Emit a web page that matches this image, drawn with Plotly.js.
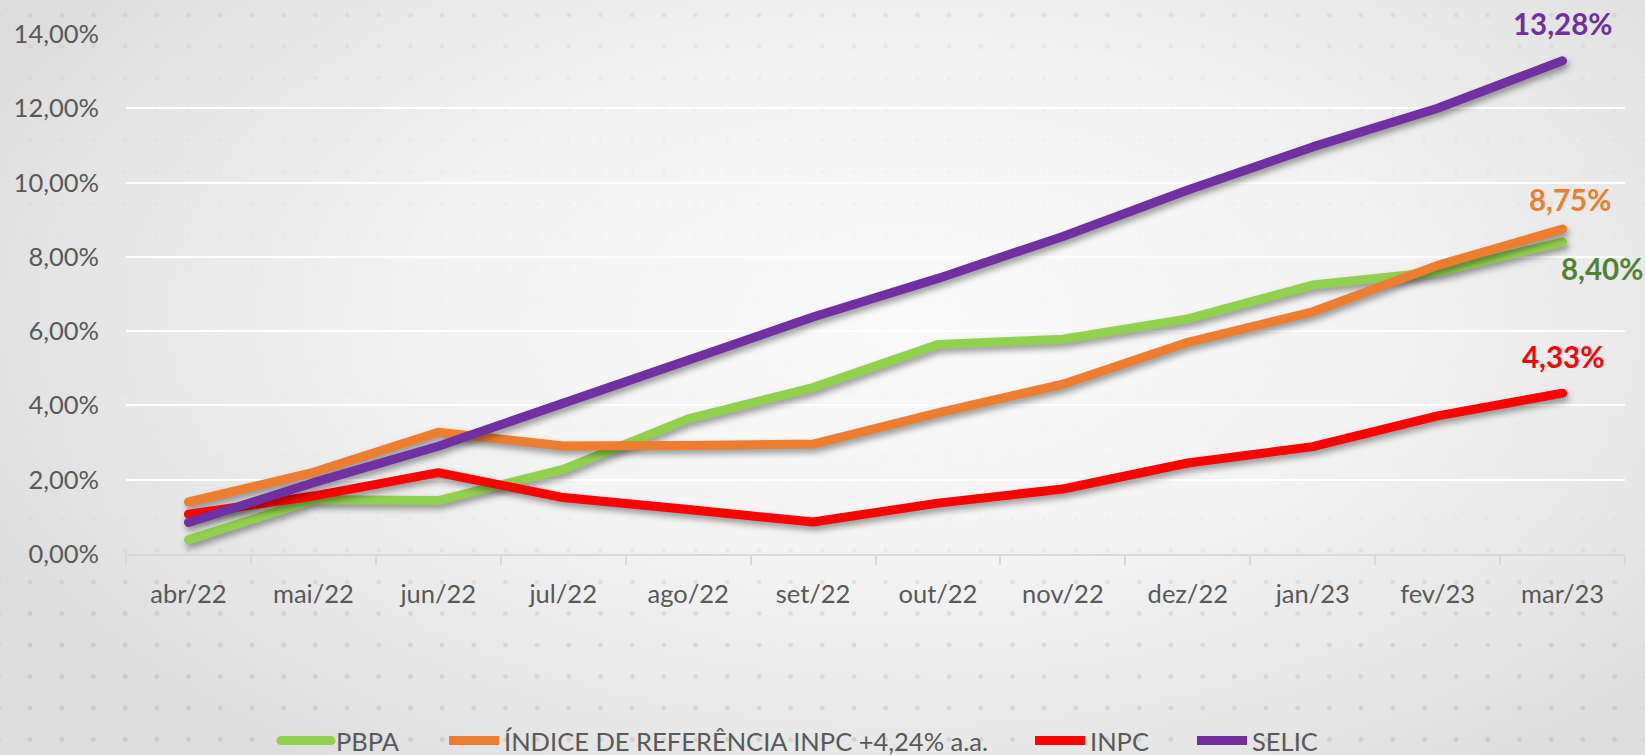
<!DOCTYPE html>
<html>
<head>
<meta charset="utf-8">
<script src="https://cdn.plot.ly/plotly-3.0.1.min.js"></script>
<style>
html,body{margin:0;padding:0;width:1645px;height:755px;overflow:hidden;background:#eeeeee;}
#bg{position:absolute;left:0;top:0;width:1645px;height:755px;
  background:radial-gradient(ellipse 62% 75% at 55% 42%, #fafafa 0%, #f3f3f3 45%, #e4e4e4 85%, #dddddd 100%);}
#dots{position:absolute;left:0;top:0;width:1645px;height:755px;
  background-image:radial-gradient(circle, rgba(0,0,0,0.09) 0, rgba(0,0,0,0.09) 2px, rgba(0,0,0,0) 2.8px);
  background-size:31.7px 31.5px;background-position:14.3px -0.8px;
  -webkit-mask-image:linear-gradient(to bottom, rgba(0,0,0,0.7) 0%, rgba(0,0,0,0.25) 12%, rgba(0,0,0,0.08) 40%, rgba(0,0,0,0.15) 68%, rgba(0,0,0,0.9) 80%, rgba(0,0,0,1) 100%);
  mask-image:linear-gradient(to bottom, rgba(0,0,0,0.7) 0%, rgba(0,0,0,0.25) 12%, rgba(0,0,0,0.08) 40%, rgba(0,0,0,0.15) 68%, rgba(0,0,0,0.9) 80%, rgba(0,0,0,1) 100%);}
#chart{position:absolute;left:0;top:0;width:1645px;height:755px;}
.scatterlayer .js-line{filter:drop-shadow(2px 4px 3px rgba(0,0,0,0.38));stroke-linecap:round !important;stroke-linejoin:round !important;}
.legend .js-line{stroke-linecap:round !important;}
</style>
</head>
<body>
<div id="bg"></div>
<div id="dots"></div>
<div id="chart"></div>
<script>
const months = ['abr/22','mai/22','jun/22','jul/22','ago/22','set/22','out/22','nov/22','dez/22','jan/23','fev/23','mar/23'];
const pbpa   = [0.38,1.46,1.44,2.28,3.64,4.48,5.64,5.78,6.33,7.24,7.59,8.40];
const indice = [1.40,2.20,3.28,2.91,2.92,2.96,3.80,4.57,5.70,6.52,7.77,8.75];
const inpc   = [1.07,1.56,2.19,1.52,1.20,0.86,1.37,1.75,2.45,2.89,3.72,4.33];
const selic  = [0.85,1.92,2.90,4.04,5.22,6.38,7.42,8.55,9.80,10.96,12.00,13.28];

const names = ['PBPA','ÍNDICE DE REFERÊNCIA INPC +4,24% a.a.','INPC','SELIC'];
const series = [pbpa, indice, inpc, selic];
const colors = ['#92D050','#ED7D31','#FF0000','#7030A0'];
const labelColors = ['#548235','#ED7D31','#FF0000','#7030A0'];
const legendIds = ['legend','legend2','legend3','legend4'];
const legendX = [276, 444, 1030, 1192];
const labelShift = [[39,-26],[7,30],[0,37],[0,37]];

const FONT = 'Lato, "Open Sans", sans-serif';
const traces = series.map((s,i)=>({
  type:'scatter', mode:'lines', x:months, y:s, name:names[i],
  line:{color:colors[i], width:9}, legend:legendIds[i], hoverinfo:'skip'
}));

const fmt = v => v.toFixed(2).replace('.',',') + '%';
const annotations = series.map((s,i)=>({
  x:months[months.length-1], y:s[s.length-1], xref:'x', yref:'y',
  text:fmt(s[s.length-1]), showarrow:false,
  xshift:labelShift[i][0], yshift:labelShift[i][1],
  font:{family:FONT, size:29.5, color:labelColors[i], weight:700}
}));

const layout = {
  width:1645, height:755,
  margin:{l:126, r:20, t:34, b:201},
  paper_bgcolor:'rgba(0,0,0,0)', plot_bgcolor:'rgba(0,0,0,0)',
  separators:',.',
  showlegend:true,
  xaxis:{type:'category', range:[-0.5, months.length-0.5], autorange:false,
    showgrid:false, showline:true, linecolor:'#d9d9d9', linewidth:2,
    ticks:'outside', tickson:'boundaries', ticklen:9, tickwidth:2, tickcolor:'#d9d9d9',
    ticklabelstandoff:16,
    tickfont:{family:FONT, size:25.5, color:'#595959'}, fixedrange:true},
  yaxis:{range:[0,14], autorange:false, dtick:2, tickformat:'.2f', ticksuffix:'%', showgrid:true,
    gridcolor:'#ffffff', gridwidth:2, zeroline:false, showline:false, ticks:'',
    ticklabelstandoff:26,
    tickfont:{family:FONT, size:25.5, color:'#595959'}, fixedrange:true},
  annotations:annotations
};
legendIds.forEach((id,i)=>{
  layout[id] = {orientation:'h', xref:'container', yref:'container',
    x:legendX[i]/1645, xanchor:'left', y:14/755, yanchor:'middle',
    bgcolor:'rgba(0,0,0,0)', borderwidth:0, itemwidth:50,
    font:{family:FONT, size:25.5, color:'#595959'}};
});

Plotly.newPlot('chart', traces, layout, {staticPlot:true, displayModeBar:false});
</script>
</body>
</html>
